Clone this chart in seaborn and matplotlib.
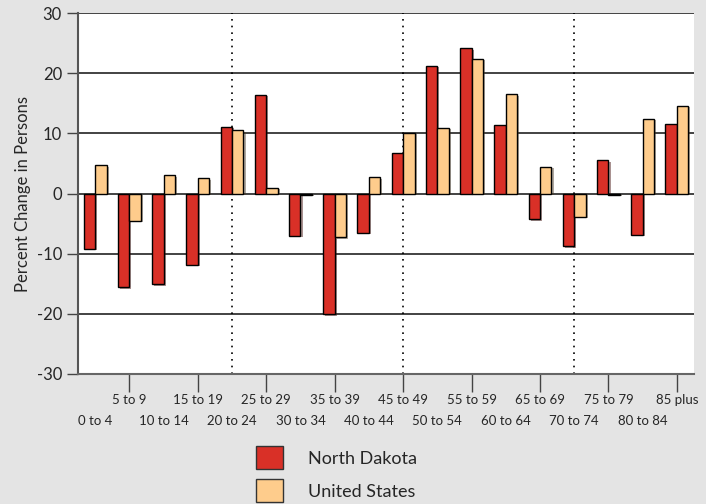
import pandas as pd
import matplotlib.pyplot as plt
import matplotlib.patheffects as pe
import seaborn as sns

# age groups and percent change values
age_groups = ['0 to 4', '5 to 9', '10 to 14', '15 to 19', '20 to 24', '25 to 29',
              '30 to 34', '35 to 39', '40 to 44', '45 to 49', '50 to 54', '55 to 59',
              '60 to 64', '65 to 69', '70 to 74', '75 to 79', '80 to 84', '85 plus']
north_dakota = [-9.2, -15.6, -15.1, -11.9, 11.1, 16.4, -7.0, -20.1, -6.5,
                6.7, 21.2, 24.1, 11.4, -4.3, -8.8, 5.5, -6.9, 11.5]
united_states = [4.7, -4.5, 3.0, 2.5, 10.5, 0.9, -0.2, -7.3, 2.7,
                 10.1, 10.9, 22.4, 16.5, 4.4, -3.9, -0.2, 12.4, 14.6]
series_names = ['North Dakota', 'United States']
y_ticks = [-30, -20, -10, 0, 10, 20, 30]

df = pd.DataFrame({'age': age_groups * 2,
                   'change': north_dakota + united_states,
                   'area': [series_names[0]] * len(age_groups) + [series_names[1]] * len(age_groups)})

colors = ['#d93027', '#fecc8c']

sns.set_theme(style='white', rc={'figure.facecolor': '#e4e4e4', 'axes.facecolor': 'white'})
plt.rcParams['font.family'] = ['Lato', 'DejaVu Sans']

fig = plt.figure(figsize=(7.06, 5.04), dpi=100)
ax = fig.add_axes([78 / 706, 1 - 374 / 504, (694 - 78) / 706, (374 - 13) / 504])

sns.barplot(data=df, x='age', y='change', hue='area', order=age_groups,
            palette=colors, saturation=1, width=0.67, edgecolor='black',
            linewidth=1, legend=False, ax=ax, zorder=3)
for bar in ax.patches:
    bar.set_path_effects([pe.SimplePatchShadow(offset=(1.5, -1), alpha=0.45), pe.Normal()])

ax.set_xlim(-0.5, len(age_groups) - 0.5)
ax.set_ylim(-30, 30)
ax.set_yticks(y_ticks)
ax.set_yticklabels([str(v) for v in y_ticks], fontsize=12)
ax.yaxis.grid(True, color='#222222', linewidth=1.2)
ax.set_axisbelow(True)

# dotted separators every five groups
for i in [4, 9, 14]:
    ax.axvline(i, color='black', linestyle=(0, (1, 3)), linewidth=1.2, zorder=2)

# staggered category labels
even = list(range(0, len(age_groups), 2))
odd = list(range(1, len(age_groups), 2))
ax.set_xticks(even)
ax.set_xticklabels([age_groups[i] for i in even], fontsize=9.5)
ax.set_xticks(odd, minor=True)
ax.set_xticklabels([age_groups[i] for i in odd], minor=True, fontsize=9.5)
ax.tick_params(axis='x', which='major', length=27, width=1, color='#444444', pad=2.5, direction='out')
ax.tick_params(axis='x', which='minor', length=13, width=1, color='#444444', pad=1.5, direction='out', bottom=True)
ax.tick_params(axis='y', length=8, width=1, color='#444444', direction='out', left=True)

ax.set_xlabel('')
ax.set_ylabel('Percent Change in Persons', fontsize=12)

for side in ['top', 'right']:
    ax.spines[side].set_visible(False)
ax.spines['left'].set_color('#555555')
ax.spines['left'].set_linewidth(1.5)
ax.spines['bottom'].set_color('#666666')
ax.spines['bottom'].set_linewidth(1.5)

handles = [plt.Rectangle((0, 0), 1, 1, facecolor=c, edgecolor='#333333', linewidth=1)
           for c in colors]
fig.legend(handles, series_names, loc='upper left', bbox_to_anchor=(256 / 706, 1 - 446 / 504),
           frameon=False, fontsize=13, handlelength=1.5, handleheight=1.6,
           handletextpad=1.4, labelspacing=0.55, borderpad=0, borderaxespad=0)

fig.savefig('out.png', dpi=100)
